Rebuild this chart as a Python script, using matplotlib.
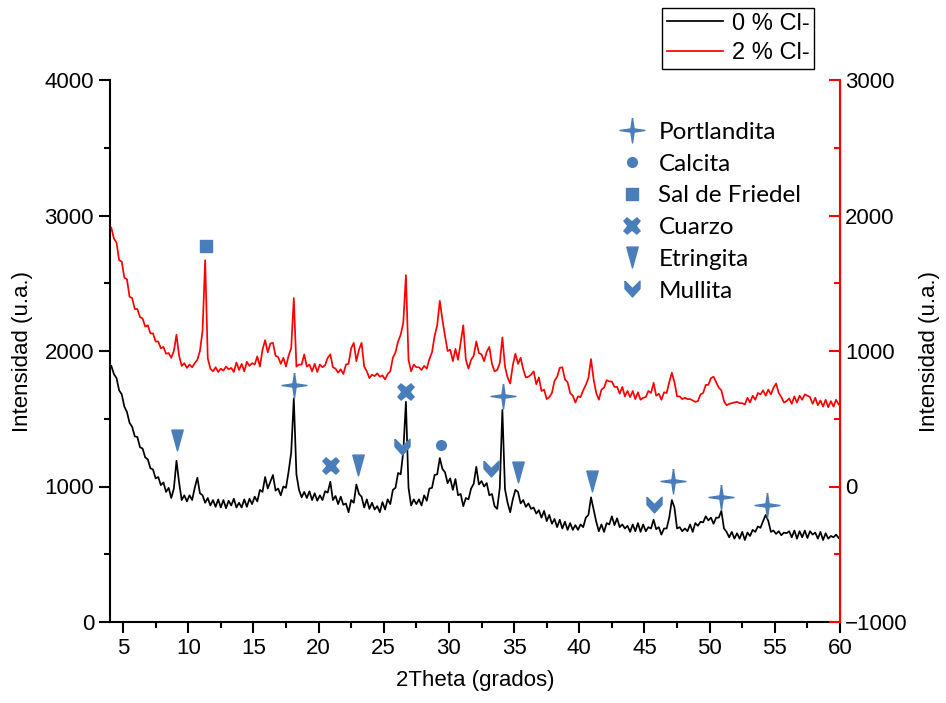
import numpy as np
import matplotlib
matplotlib.use("Agg")
import matplotlib.pyplot as plt
from matplotlib.lines import Line2D
from matplotlib.path import Path
from matplotlib.ticker import MultipleLocator

# 2-theta scan grid (degrees), 0.2 deg step
two_theta = np.round(4.1 + 0.2 * np.arange(280), 1)

# 0 % Cl- pattern (left axis, counts)
int_0cl = [
    1890, 1830, 1800, 1710, 1680, 1590, 1550, 1470, 1440, 1370,
    1365, 1290, 1280, 1215, 1200, 1135, 1125, 1060, 1070, 1010,
    1030, 960, 990, 915, 985, 1190, 1030, 900, 935, 890,
    935, 900, 990, 1065, 950, 935, 880, 915, 860, 900,
    850, 905, 845, 900, 840, 895, 860, 910, 845, 880,
    845, 905, 850, 910, 870, 925, 890, 975, 960, 1070,
    985, 1035, 1085, 970, 985, 935, 1000, 990, 1110, 1250,
    1650, 1090, 975, 920, 960, 915, 965, 900, 950, 895,
    935, 900, 965, 955, 1035, 900, 930, 870, 925, 865,
    875, 810, 900, 880, 1015, 945, 925, 845, 905, 835,
    880, 830, 855, 810, 885, 830, 905, 870, 975, 990,
    1100, 1090, 1260, 1625, 990, 860, 905, 870, 905, 860,
    935, 895, 985, 990, 1085, 1090, 1210, 1130, 1105, 1025,
    1060, 975, 1055, 935, 945, 855, 915, 905, 985, 1020,
    1145, 1015, 1040, 1000, 1025, 935, 945, 855, 835, 990,
    1565, 980, 880, 810, 905, 975, 960, 875, 900, 850,
    875, 835, 845, 800, 825, 770, 820, 745, 790, 725,
    760, 700, 755, 690, 740, 680, 730, 680, 715, 680,
    720, 700, 770, 790, 920, 830, 740, 670, 720, 665,
    730, 720, 780, 715, 765, 700, 720, 690, 710, 665,
    720, 670, 730, 665, 720, 670, 700, 690, 755, 685,
    700, 645, 690, 690, 770, 900, 845, 690, 700, 670,
    690, 670, 720, 665, 730, 710, 740, 735, 780, 750,
    770, 725, 770, 770, 820, 690, 665, 625, 665, 615,
    655, 615, 665, 605, 660, 635, 680, 665, 705, 695,
    745, 790, 745, 665, 675, 650, 670, 640, 660, 655,
    670, 625, 675, 615, 670, 625, 675, 620, 670, 645,
    660, 615, 665, 605, 655, 615, 635, 625, 645, 620,
]

# 2 % Cl- pattern (right axis, counts)
int_2cl = [
    1910, 1830, 1800, 1670, 1660, 1540, 1530, 1400, 1390, 1310,
    1310, 1250, 1240, 1180, 1190, 1130, 1130, 1070, 1070, 1020,
    1030, 980, 985, 950, 1000, 1120, 965, 890, 910, 875,
    900, 880, 910, 935, 1000, 1150, 1670, 945, 870, 850,
    880, 845, 870, 855, 885, 865, 875, 845, 915, 860,
    905, 850, 920, 890, 910, 900, 960, 885, 1010, 1080,
    990, 1055, 1060, 965, 955, 905, 950, 885, 965, 1020,
    1390, 885, 900, 900, 975, 885, 900, 850, 905, 845,
    900, 880, 895, 950, 975, 880, 870, 840, 865, 830,
    900, 905, 1020, 1060, 925, 1010, 1060, 885, 850, 800,
    825, 815, 835, 810, 820, 790, 830, 850, 950, 990,
    1070, 1120, 1210, 1560, 935, 850, 900, 880, 880, 860,
    890, 870, 940, 990, 1110, 1190, 1370, 1230, 1110, 1000,
    1010, 925, 1015, 935, 1060, 1190, 935, 870, 935, 965,
    1070, 985, 975, 925, 995, 1030, 905, 850, 860, 910,
    1100, 885, 805, 760, 895, 980, 905, 950, 865, 805,
    810, 825, 850, 755, 805, 705, 715, 645, 660, 690,
    780, 810, 875, 880, 790, 770, 690, 670, 620, 665,
    660, 710, 750, 800, 940, 790, 690, 640, 715, 730,
    785, 775, 775, 735, 735, 685, 735, 665, 705, 660,
    705, 645, 695, 640, 655, 660, 705, 690, 765, 670,
    685, 640, 695, 690, 770, 840, 770, 665, 665, 645,
    655, 645, 645, 635, 625, 630, 680, 690, 750, 750,
    800, 810, 770, 730, 710, 630, 600, 610, 615, 620,
    625, 615, 615, 605, 655, 620, 670, 640, 690, 680,
    710, 670, 715, 680, 730, 760, 690, 660, 620, 630,
    650, 610, 665, 620, 670, 640, 680, 670, 660, 610,
    655, 600, 635, 590, 640, 585, 630, 590, 640, 605,
]

series_labels = ["0 % Cl-", "2 % Cl-"]

# Phase annotations (2theta, left-axis intensity)
portlandita_x = [18.1, 34.15, 47.2, 50.85, 54.4]
portlandita_y = [1750, 1670, 1040, 920, 860]
calcita_x = [29.4]
calcita_y = [1305]
friedel_x = [11.35]
friedel_y = [2775]
cuarzo_x = [20.95, 26.7]
cuarzo_y = [1150, 1695]
etringita_x = [9.15, 23.0, 35.3, 40.95]
etringita_y = [1340, 1160, 1105, 1040]
mullita_x = [26.4, 33.2, 45.7]
mullita_y = [1290, 1130, 865]

phase_names = ["Portlandita", "Calcita", "Sal de Friedel", "Cuarzo",
               "Etringita", "Mullita"]

BLUE = "#4a7ebb"

star4 = Path([(0, 1), (0.13, 0.13), (1, 0), (0.13, -0.13), (0, -1),
              (-0.13, -0.13), (-1, 0), (-0.13, 0.13), (0, 1)])
tri_narrow = Path([(-0.55, 1), (0.55, 1), (0, -1), (-0.55, 1)])
chevron = Path([(-0.9, 1), (0, 0.1), (0.9, 1), (0.9, 0.1), (0, -0.9),
                (-0.9, 0.1), (-0.9, 1)])

plt.rcParams["font.family"] = ["Liberation Sans", "DejaVu Sans"]

fig = plt.figure(figsize=(9.46, 7.03), dpi=100)
ax = fig.add_axes([110 / 946, 1 - 622 / 703, 730 / 946, 542 / 703])
ax2 = ax.twinx()

l0, = ax.plot(two_theta, int_0cl, color="black", lw=1.25)
l2, = ax2.plot(two_theta, int_2cl, color="red", lw=1.25)

ax.set_xlim(4, 60)
ax.set_ylim(0, 4000)
ax2.set_ylim(-1000, 3000)

ax.xaxis.set_major_locator(MultipleLocator(5))
ax.xaxis.set_minor_locator(MultipleLocator(2.5))
ax.yaxis.set_major_locator(MultipleLocator(1000))
ax.yaxis.set_minor_locator(MultipleLocator(500))
ax2.yaxis.set_major_locator(MultipleLocator(1000))
ax2.yaxis.set_minor_locator(MultipleLocator(500))

ax.tick_params(axis="both", which="major", direction="out", length=8,
               width=1.5, labelsize=16)
ax.tick_params(axis="both", which="minor", direction="out", length=4,
               width=1.5)
ax.tick_params(axis="x", which="both", top=False)
ax2.tick_params(axis="y", which="major", direction="in", length=8,
                width=1.5, color="red", labelsize=16, labelcolor="black")
ax2.tick_params(axis="y", which="minor", direction="in", length=4,
                width=1.5, color="red")

for a in (ax, ax2):
    a.spines["top"].set_visible(False)
ax.spines["left"].set_linewidth(1.5)
ax.spines["bottom"].set_linewidth(1.5)
ax2.spines["left"].set_visible(False)
ax2.spines["bottom"].set_visible(False)
ax2.spines["right"].set_color("red")
ax2.spines["right"].set_linewidth(1.5)

ax.set_xlabel("2Theta (grados)", fontsize=16, labelpad=8)
ax.set_ylabel("Intensidad (u.a.)", fontsize=16, labelpad=8)
ax2.set_ylabel("Intensidad (u.a.)", fontsize=16, labelpad=8)

# phase markers
mk = dict(ls="none", color=BLUE, zorder=5, clip_on=False)
ax.plot(portlandita_x, portlandita_y, marker=star4, ms=18, **mk)
ax.plot(calcita_x, calcita_y, marker="o", ms=7, **mk)
ax.plot(friedel_x, friedel_y, marker="s", ms=8, **mk)
ax.plot(cuarzo_x, cuarzo_y, marker="X", ms=13, mew=0, **mk)
ax.plot(etringita_x, etringita_y, marker=tri_narrow, ms=15, **mk)
ax.plot(mullita_x, mullita_y, marker=chevron, ms=12, **mk)

phase_handles = [
    Line2D([], [], ls="none", marker=star4, ms=18, color=BLUE),
    Line2D([], [], ls="none", marker="o", ms=7, color=BLUE),
    Line2D([], [], ls="none", marker="s", ms=8, color=BLUE),
    Line2D([], [], ls="none", marker="X", ms=13, mew=0, color=BLUE),
    Line2D([], [], ls="none", marker=tri_narrow, ms=15, color=BLUE),
    Line2D([], [], ls="none", marker=chevron, ms=12, color=BLUE),
]
ax2.legend(phase_handles, phase_names, loc="upper left",
           bbox_to_anchor=(0.679, 0.945), frameon=False,
           prop={"family": "Lato", "size": 17.5},
           handlelength=1.2, handletextpad=0.47,
           labelspacing=0.44, borderpad=0)

fig.legend([l0, l2], series_labels, loc="upper left",
           bbox_to_anchor=(662 / 946, 1 - 8 / 703), frameon=True,
           fancybox=False, edgecolor="black", framealpha=1,
           fontsize=17, handlelength=2.4, handletextpad=0.35,
           labelspacing=0.3, borderpad=0.2, borderaxespad=0)

fig.savefig("out.png", dpi=100)
